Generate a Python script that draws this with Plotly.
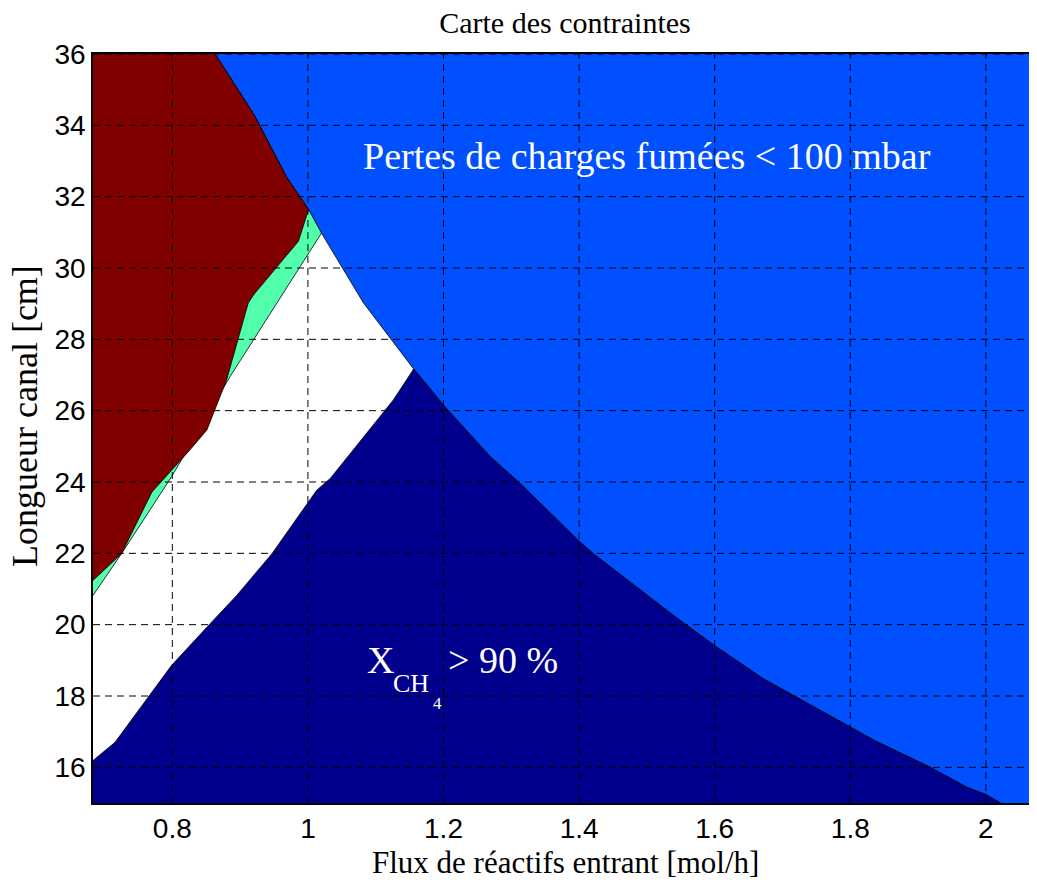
import plotly.graph_objects as go

# ---- data (x: flux [mol/h], y: longueur canal [cm]) ----
# Pressure-drop constraint boundary (light-blue region lower/left edge)
dp_x = [0.863, 0.920, 0.969, 1.001, 1.020, 1.082, 1.156, 1.202, 1.269, 1.313,
        1.401, 1.421, 1.539, 1.603, 1.672, 1.800, 1.836, 1.918, 1.972, 2.001, 2.026]
dp_y = [36.0, 34.31, 32.53, 31.64, 30.98, 29.02, 27.17, 26.11, 24.71, 23.96,
        22.32, 21.99, 20.26, 19.37, 18.48, 17.12, 16.75, 16.0, 15.44, 15.23, 14.95]

# Conversion constraint boundary (navy region left edge)
cv_x = [0.683, 0.7155, 0.757, 0.799, 0.856, 0.895, 0.947, 1.013, 1.033, 1.102, 1.126, 1.156]
cv_y = [16.19, 16.70, 17.78, 18.86, 20.03, 20.82, 21.99, 23.77, 24.10, 25.74, 26.30, 27.17]

# Dark-red / green boundary
rg_x = [1.001, 0.986, 0.920, 0.912, 0.880, 0.851, 0.826, 0.770, 0.725, 0.683]
rg_y = [31.64, 30.75, 29.25, 29.02, 26.86, 25.46, 24.90, 23.72, 21.99, 21.24]

# Green / white boundary
gw_x = [1.020, 0.885, 0.799, 0.725, 0.683]
gw_y = [30.98, 26.95, 24.15, 21.99, 20.82]

x_ticks = [0.8, 1.0, 1.2, 1.4, 1.6, 1.8, 2.0]
x_tick_labels = ["0.8", "1", "1.2", "1.4", "1.6", "1.8", "2"]
y_ticks = [16, 18, 20, 22, 24, 26, 28, 30, 32, 34, 36]

x_range = [0.683, 2.0754]
y_range = [15.0, 36.0]

# ---- style ----
C_BLUE = "#0050FF"
C_NAVY = "#00008C"
C_RED = "#800000"
C_GREEN = "#52FFAD"
C_WHITE = "#FFFFFF"
SERIF = "Liberation Serif, Times New Roman, serif"
SANS = "Liberation Sans, Arial, sans-serif"

# page body has an 8px margin: figure is sized/offset to compensate
PAGE_OFF = 8
FIG_W, FIG_H = 1037 - PAGE_OFF, 887 - PAGE_OFF

x_out = x_range[0] - 0.1
y_top_out = y_range[1] + 1
y_bot_out = y_range[0] - 1

fig = go.Figure()

def poly(xs, ys, color):
    fig.add_trace(go.Scatter(
        x=xs, y=ys, mode="lines", fill="toself", fillcolor=color,
        line=dict(color="black", width=0.8), hoverinfo="skip", showlegend=False))

# white: everything left of the pressure-drop boundary
poly([x_out, dp_x[0]] + dp_x + [dp_x[-1], x_out],
     [y_top_out, y_top_out] + dp_y + [y_bot_out, y_bot_out], C_WHITE)
# green
poly([x_out, dp_x[0]] + dp_x[:5] + gw_x[1:] + [x_out],
     [y_top_out, y_top_out] + dp_y[:5] + gw_y[1:] + [gw_y[-1]], C_GREEN)
# dark red
poly([x_out, dp_x[0]] + dp_x[:4] + rg_x[1:] + [x_out],
     [y_top_out, y_top_out] + dp_y[:4] + rg_y[1:] + [rg_y[-1]], C_RED)
# navy
poly([x_out] + cv_x + dp_x[7:] + [dp_x[-1], x_out],
     [cv_y[0]] + cv_y + dp_y[7:] + [y_bot_out, y_bot_out], C_NAVY)

# dashed grid drawn above the patches
shapes = []
for xv in x_ticks:
    shapes.append(dict(type="line", xref="x", yref="paper", x0=xv, x1=xv, y0=0, y1=1,
                       layer="above", line=dict(color="black", width=1, dash="7px,5px")))
for yv in y_ticks:
    shapes.append(dict(type="line", xref="paper", yref="y", x0=0, x1=1, y0=yv, y1=yv,
                       layer="above", line=dict(color="black", width=1, dash="7px,5px")))

annotations = [
    dict(x=1.500, y=33.13, xref="x", yref="y", text="Pertes de charges fumées &lt; 100 mbar",
         showarrow=False, font=dict(family=SERIF, size=38, color="white"),
         xanchor="center", yanchor="middle"),
    dict(x=1.084, y=19.0, xref="x", yref="y", text="X", showarrow=False,
         font=dict(family=SERIF, size=38, color="white"), xanchor="left", yanchor="middle"),
    dict(x=1.123, y=18.36, xref="x", yref="y", text="CH", showarrow=False,
         font=dict(family=SERIF, size=26, color="white"), xanchor="left", yanchor="middle"),
    dict(x=1.181, y=17.80, xref="x", yref="y", text="4", showarrow=False,
         font=dict(family=SERIF, size=17, color="white"), xanchor="left", yanchor="middle"),
    dict(x=1.204, y=19.0, xref="x", yref="y", text="&gt; 90 %", showarrow=False,
         font=dict(family=SERIF, size=38, color="white"), xanchor="left", yanchor="middle"),
    # axis titles
    dict(x=0.5, y=(803 - 862) / 749, xref="paper", yref="paper",
         text="Flux de réactifs entrant [mol/h]", showarrow=False,
         font=dict(family=SERIF, size=31, color="black"), xanchor="center", yanchor="middle"),
    dict(x=(25 - 93) / 944, y=(803 - 416) / 749, xref="paper", yref="paper",
         text="Longueur canal [cm]", showarrow=False, textangle=-90,
         font=dict(family=SERIF, size=36, color="black"), xanchor="center", yanchor="middle"),
]

fig.update_layout(
    width=FIG_W, height=FIG_H,
    margin=dict(l=93 - PAGE_OFF, r=0, t=54 - PAGE_OFF, b=84, autoexpand=False),
    paper_bgcolor="white", plot_bgcolor=C_BLUE,
    title=dict(text="Carte des contraintes", x=(565 - PAGE_OFF) / FIG_W, xanchor="center",
               y=1 - (22 - PAGE_OFF) / FIG_H, yanchor="middle", yref="container",
               font=dict(family=SERIF, size=30, color="black")),
    xaxis=dict(range=x_range, tickvals=x_ticks, ticktext=x_tick_labels, automargin=False,
               showgrid=False, zeroline=False, showline=True, linecolor="black", linewidth=1.5,
               mirror=True, ticks="",
               tickfont=dict(family=SANS, size=28, color="black")),
    yaxis=dict(range=y_range, tickvals=y_ticks, showgrid=False, zeroline=False, automargin=False,
               showline=True, linecolor="black", linewidth=1.5, ticks="",
               tickfont=dict(family=SANS, size=28, color="black")),
    shapes=shapes, annotations=annotations,
)

fig.write_html("out.html")
